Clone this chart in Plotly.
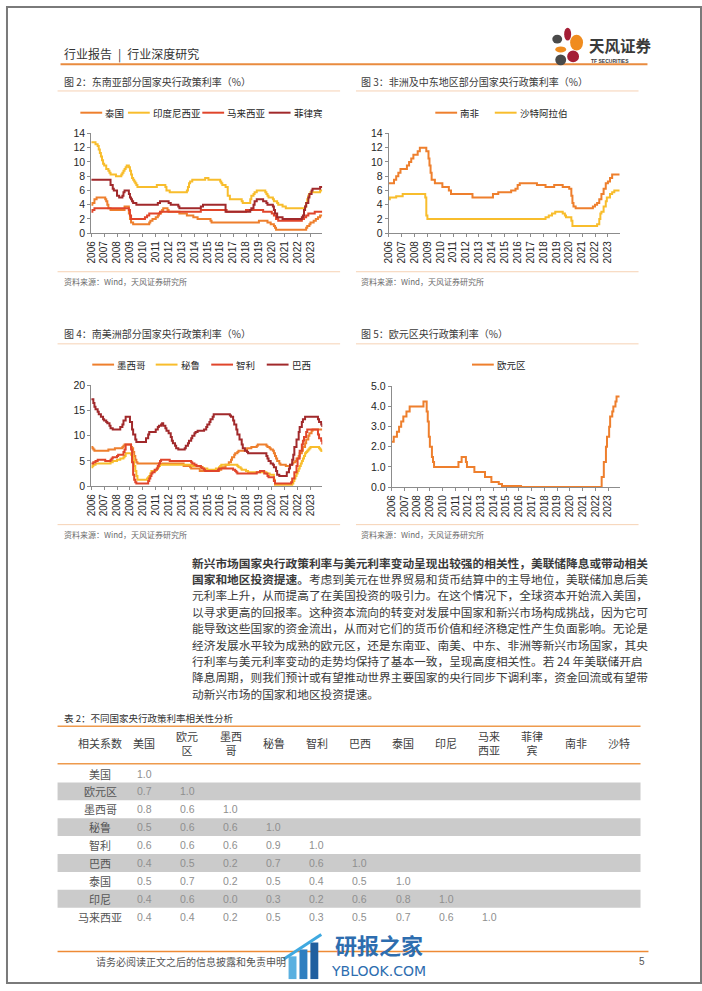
import plotly.graph_objects as go

W, H = 702, 991
CJK = "Noto Sans CJK SC"
LAT = "Liberation Sans, Arial, Noto Sans CJK SC"

ORANGE = "#EE7F2D"
YELLOW = "#F8BD2C"
RED = "#E0452B"
DARKRED = "#A1292B"

# ---------------- data (change points, drawn as steps) ----------------
TH = [("2006-01", 4.0), ("2006-02", 4.25), ("2006-04", 4.75), ("2006-06", 5.0), ("2007-02", 4.75), ("2007-03", 4.5),
      ("2007-04", 4.0), ("2007-05", 3.5), ("2007-07", 3.25), ("2008-08", 3.75), ("2008-12", 2.75), ("2009-01", 2.0),
      ("2009-02", 1.5), ("2009-04", 1.25), ("2010-07", 1.5), ("2010-08", 1.75), ("2010-10", 2.0), ("2011-01", 2.25),
      ("2011-03", 2.5), ("2011-04", 2.75), ("2011-06", 3.0), ("2011-07", 3.25), ("2011-08", 3.5), ("2011-12", 3.25),
      ("2012-01", 3.0), ("2012-11", 2.75), ("2013-06", 2.5), ("2013-12", 2.25), ("2014-04", 2.0), ("2015-04", 1.75),
      ("2015-05", 1.5), ("2019-01", 1.75), ("2019-09", 1.5), ("2019-12", 1.25), ("2020-03", 1.0), ("2020-04", 0.75),
      ("2020-05", 0.5), ("2022-09", 0.75), ("2022-10", 1.0), ("2022-12", 1.25), ("2023-01", 1.5), ("2023-04", 1.75),
      ("2023-06", 2.0), ("2023-08", 2.25), ("2023-10", 2.5), ("2023-12", 2.5)]
ID = [("2006-01", 12.75), ("2006-05", 12.5), ("2006-07", 12.25), ("2006-08", 11.75), ("2006-09", 11.25), ("2006-10", 10.75),
      ("2006-11", 10.25), ("2006-12", 9.75), ("2007-01", 9.5), ("2007-03", 9.0), ("2007-05", 8.75), ("2007-06", 8.5),
      ("2007-07", 8.25), ("2007-12", 8.0), ("2008-05", 8.25), ("2008-06", 8.5), ("2008-07", 8.75), ("2008-08", 9.0),
      ("2008-09", 9.25), ("2008-10", 9.5), ("2008-12", 9.25), ("2009-01", 8.75), ("2009-02", 8.25), ("2009-03", 7.75),
      ("2009-04", 7.5), ("2009-05", 7.25), ("2009-06", 7.0), ("2009-07", 6.75), ("2009-08", 6.5), ("2011-02", 6.75),
      ("2011-10", 6.5), ("2011-11", 6.0), ("2012-02", 5.75), ("2013-06", 6.0), ("2013-07", 6.5), ("2013-08", 7.0),
      ("2013-09", 7.25), ("2013-11", 7.5), ("2014-11", 7.75), ("2015-02", 7.5), ("2016-01", 7.25), ("2016-02", 7.0),
      ("2016-03", 6.75), ("2016-06", 6.5), ("2016-08", 5.25), ("2016-10", 4.75), ("2017-09", 4.5), ("2017-10", 4.25),
      ("2018-05", 4.75), ("2018-06", 5.25), ("2018-08", 5.5), ("2018-09", 5.75), ("2018-11", 6.0), ("2019-07", 5.75),
      ("2019-08", 5.5), ("2019-09", 5.25), ("2019-10", 5.0), ("2020-02", 4.75), ("2020-03", 4.5), ("2020-06", 4.25),
      ("2020-07", 4.0), ("2020-11", 3.75), ("2021-02", 3.5), ("2022-08", 3.75), ("2022-09", 4.25), ("2022-10", 4.75),
      ("2022-11", 5.25), ("2022-12", 5.5), ("2023-01", 5.75), ("2023-10", 6.0), ("2023-12", 6.0)]
MY = [("2006-01", 3.0), ("2006-02", 3.25), ("2006-04", 3.5), ("2008-12", 3.25), ("2009-01", 2.5), ("2009-02", 2.0),
      ("2010-03", 2.25), ("2010-05", 2.5), ("2010-07", 2.75), ("2011-05", 3.0), ("2014-07", 3.25), ("2016-07", 3.0),
      ("2018-01", 3.25), ("2019-05", 3.0), ("2020-01", 2.75), ("2020-03", 2.5), ("2020-05", 2.0), ("2020-07", 1.75),
      ("2022-05", 2.0), ("2022-07", 2.25), ("2022-09", 2.5), ("2022-11", 2.75), ("2023-05", 3.0), ("2023-12", 3.0)]
PH = [("2006-01", 7.5), ("2007-07", 6.75), ("2007-09", 6.25), ("2007-10", 6.0), ("2008-01", 5.25), ("2008-03", 5.0),
      ("2008-06", 5.25), ("2008-07", 5.75), ("2008-08", 6.0), ("2008-12", 5.5), ("2009-01", 5.0), ("2009-02", 4.75),
      ("2009-03", 4.5), ("2009-04", 4.25), ("2009-07", 4.0), ("2011-03", 4.25), ("2011-05", 4.5), ("2012-01", 4.25),
      ("2012-03", 4.0), ("2012-10", 3.75), ("2012-11", 3.5), ("2014-07", 3.75), ("2014-09", 4.0), ("2016-06", 3.0),
      ("2018-05", 3.25), ("2018-06", 3.5), ("2018-08", 4.0), ("2018-09", 4.5), ("2018-11", 4.75), ("2019-05", 4.5),
      ("2019-08", 4.25), ("2019-09", 4.0), ("2020-02", 3.75), ("2020-03", 3.25), ("2020-04", 2.75), ("2020-06", 2.25),
      ("2020-11", 2.0), ("2022-05", 2.25), ("2022-06", 2.5), ("2022-07", 3.25), ("2022-08", 3.75), ("2022-09", 4.25),
      ("2022-11", 5.0), ("2022-12", 5.5), ("2023-02", 6.0), ("2023-03", 6.25), ("2023-10", 6.5), ("2023-12", 6.5)]

ZA = [("2006-01", 7.0), ("2006-06", 7.5), ("2006-08", 8.0), ("2006-10", 8.5), ("2006-12", 9.0), ("2007-06", 9.5),
      ("2007-08", 10.0), ("2007-10", 10.5), ("2007-12", 11.0), ("2008-04", 11.5), ("2008-06", 12.0), ("2008-12", 11.5),
      ("2009-02", 10.5), ("2009-03", 9.5), ("2009-04", 8.5), ("2009-05", 7.5), ("2009-08", 7.0), ("2010-03", 6.5),
      ("2010-09", 6.0), ("2010-11", 5.5), ("2012-07", 5.0), ("2014-02", 5.5), ("2014-07", 5.75), ("2015-07", 6.0),
      ("2015-11", 6.25), ("2016-01", 6.75), ("2016-03", 7.0), ("2017-07", 6.75), ("2018-03", 6.5), ("2018-11", 6.75),
      ("2019-07", 6.5), ("2020-01", 6.25), ("2020-03", 5.25), ("2020-04", 4.25), ("2020-05", 3.75), ("2020-07", 3.5),
      ("2021-11", 3.75), ("2022-01", 4.0), ("2022-03", 4.25), ("2022-05", 4.75), ("2022-07", 5.5), ("2022-09", 6.25),
      ("2022-11", 7.0), ("2023-01", 7.25), ("2023-03", 7.75), ("2023-05", 8.25), ("2023-12", 8.25)]
SA = [("2006-01", 4.75), ("2006-02", 5.0), ("2006-08", 5.2), ("2007-02", 5.5), ("2008-11", 5.0), ("2008-12", 2.5),
      ("2009-01", 2.0), ("2018-03", 2.25), ("2018-06", 2.5), ("2018-09", 2.75), ("2018-12", 3.0), ("2019-07", 2.75),
      ("2019-09", 2.5), ("2019-10", 2.25), ("2020-03", 1.75), ("2020-04", 1.0), ("2022-03", 1.25), ("2022-05", 2.0),
      ("2022-06", 2.75), ("2022-07", 3.0), ("2022-09", 3.75), ("2022-11", 4.5), ("2022-12", 5.0), ("2023-03", 5.5),
      ("2023-05", 5.75), ("2023-07", 6.0), ("2023-12", 6.0)]

MX = [("2006-01", 7.75), ("2006-02", 7.5), ("2006-03", 7.25), ("2006-04", 7.0), ("2007-05", 7.25), ("2007-11", 7.5),
      ("2008-06", 7.75), ("2008-07", 8.0), ("2008-08", 8.25), ("2009-02", 7.75), ("2009-03", 7.5), ("2009-04", 6.75),
      ("2009-05", 6.0), ("2009-06", 5.25), ("2009-07", 4.75), ("2009-08", 4.5), ("2013-03", 4.0), ("2013-09", 3.75),
      ("2013-10", 3.5), ("2014-06", 3.0), ("2015-12", 3.25), ("2016-02", 3.75), ("2016-06", 4.25), ("2016-09", 4.75),
      ("2016-11", 5.25), ("2016-12", 5.75), ("2017-02", 6.25), ("2017-03", 6.5), ("2017-05", 6.75), ("2017-06", 7.0),
      ("2017-12", 7.25), ("2018-02", 7.5), ("2018-06", 7.75), ("2018-11", 8.0), ("2018-12", 8.25), ("2019-08", 8.0),
      ("2019-09", 7.75), ("2019-11", 7.5), ("2019-12", 7.25), ("2020-02", 7.0), ("2020-03", 6.5), ("2020-04", 6.0),
      ("2020-05", 5.5), ("2020-06", 5.0), ("2020-08", 4.5), ("2020-09", 4.25), ("2021-02", 4.0), ("2021-06", 4.25),
      ("2021-08", 4.5), ("2021-09", 4.75), ("2021-11", 5.0), ("2021-12", 5.5), ("2022-02", 6.0), ("2022-03", 6.5),
      ("2022-05", 7.0), ("2022-06", 7.75), ("2022-08", 8.5), ("2022-09", 9.25), ("2022-11", 10.0), ("2022-12", 10.5),
      ("2023-02", 11.0), ("2023-03", 11.25), ("2023-12", 11.25)]
PE = [("2006-01", 3.75), ("2006-02", 4.0), ("2006-03", 4.25), ("2006-05", 4.5), ("2007-07", 4.75), ("2007-09", 5.0),
      ("2008-01", 5.25), ("2008-04", 5.5), ("2008-07", 5.75), ("2008-08", 6.0), ("2008-09", 6.5), ("2009-02", 6.25),
      ("2009-03", 6.0), ("2009-04", 5.0), ("2009-05", 4.0), ("2009-06", 3.0), ("2009-07", 2.0), ("2009-08", 1.25),
      ("2010-05", 1.5), ("2010-06", 1.75), ("2010-07", 2.0), ("2010-08", 2.5), ("2010-09", 3.0), ("2011-01", 3.25),
      ("2011-02", 3.5), ("2011-03", 3.75), ("2011-04", 4.0), ("2011-05", 4.25), ("2013-11", 4.0), ("2014-07", 3.75),
      ("2014-09", 3.5), ("2015-01", 3.25), ("2015-09", 3.5), ("2015-12", 3.75), ("2016-01", 4.0), ("2016-02", 4.25),
      ("2017-05", 4.0), ("2017-06", 3.75), ("2017-08", 3.5), ("2017-09", 3.25), ("2018-01", 3.0), ("2018-03", 2.75),
      ("2019-08", 2.5), ("2019-11", 2.25), ("2020-03", 1.25), ("2020-04", 0.25), ("2021-08", 0.5), ("2021-09", 1.0),
      ("2021-10", 1.5), ("2021-11", 2.0), ("2021-12", 2.5), ("2022-01", 3.0), ("2022-02", 3.5), ("2022-03", 4.0),
      ("2022-04", 4.5), ("2022-05", 5.0), ("2022-06", 5.5), ("2022-07", 6.0), ("2022-08", 6.5), ("2022-09", 6.75),
      ("2022-10", 7.0), ("2022-11", 7.25), ("2022-12", 7.5), ("2023-01", 7.75), ("2023-09", 7.5), ("2023-10", 7.25),
      ("2023-11", 7.0), ("2023-12", 6.75)]
CL = [("2006-01", 4.5), ("2006-03", 4.75), ("2006-05", 5.0), ("2006-07", 5.25), ("2007-02", 5.0), ("2007-07", 5.25),
      ("2007-08", 5.5), ("2007-09", 5.75), ("2008-01", 6.0), ("2008-02", 6.25), ("2008-07", 6.75), ("2008-08", 7.25),
      ("2008-09", 8.25), ("2009-02", 7.25), ("2009-03", 4.75), ("2009-04", 2.25), ("2009-05", 1.25), ("2009-06", 0.75),
      ("2009-07", 0.5), ("2010-06", 1.0), ("2010-07", 1.5), ("2010-08", 2.0), ("2010-09", 2.5), ("2010-10", 2.75),
      ("2010-12", 3.25), ("2011-02", 3.5), ("2011-03", 4.0), ("2011-04", 4.5), ("2011-05", 5.0), ("2011-06", 5.25),
      ("2012-02", 5.0), ("2013-10", 4.75), ("2013-11", 4.5), ("2014-01", 4.25), ("2014-03", 4.0), ("2014-07", 3.75),
      ("2014-08", 3.5), ("2014-10", 3.25), ("2014-11", 3.0), ("2015-11", 3.25), ("2015-12", 3.5), ("2017-01", 3.25),
      ("2017-03", 3.0), ("2017-04", 2.75), ("2017-05", 2.5), ("2018-11", 2.75), ("2019-02", 3.0), ("2019-06", 2.5),
      ("2019-09", 2.0), ("2019-10", 1.75), ("2020-03", 1.0), ("2020-04", 0.5), ("2021-07", 0.75), ("2021-08", 1.5),
      ("2021-10", 2.75), ("2021-12", 4.0), ("2022-01", 5.5), ("2022-03", 7.0), ("2022-05", 8.25), ("2022-06", 9.0),
      ("2022-07", 9.75), ("2022-09", 10.75), ("2022-10", 11.25), ("2023-08", 10.25), ("2023-09", 9.5), ("2023-11", 9.0),
      ("2023-12", 8.25)]
BR = [("2006-01", 17.25), ("2006-03", 16.5), ("2006-04", 15.75), ("2006-05", 15.25), ("2006-07", 14.75), ("2006-08", 14.25),
      ("2006-10", 13.75), ("2006-12", 13.25), ("2007-01", 13.0), ("2007-03", 12.75), ("2007-04", 12.5), ("2007-06", 12.0),
      ("2007-07", 11.5), ("2007-09", 11.25), ("2008-04", 11.75), ("2008-06", 12.25), ("2008-07", 13.0), ("2008-09", 13.75),
      ("2009-01", 12.75), ("2009-03", 11.25), ("2009-04", 10.25), ("2009-06", 9.25), ("2009-07", 8.75), ("2010-04", 9.5),
      ("2010-06", 10.25), ("2010-07", 10.75), ("2011-01", 11.25), ("2011-03", 11.75), ("2011-04", 12.0), ("2011-06", 12.25),
      ("2011-07", 12.5), ("2011-08", 12.0), ("2011-10", 11.5), ("2011-11", 11.0), ("2012-01", 10.5), ("2012-03", 9.75),
      ("2012-04", 9.0), ("2012-05", 8.5), ("2012-07", 8.0), ("2012-08", 7.5), ("2012-10", 7.25), ("2013-04", 7.5),
      ("2013-05", 8.0), ("2013-07", 8.5), ("2013-08", 9.0), ("2013-10", 9.5), ("2013-11", 10.0), ("2014-01", 10.5),
      ("2014-02", 10.75), ("2014-04", 11.0), ("2014-10", 11.25), ("2014-12", 11.75), ("2015-01", 12.25), ("2015-03", 12.75),
      ("2015-04", 13.25), ("2015-06", 13.75), ("2015-07", 14.25), ("2016-10", 14.0), ("2016-11", 13.75), ("2017-01", 13.0),
      ("2017-02", 12.25), ("2017-04", 11.25), ("2017-05", 10.25), ("2017-07", 9.25), ("2017-09", 8.25), ("2017-10", 7.5),
      ("2017-12", 7.0), ("2018-02", 6.75), ("2018-03", 6.5), ("2019-08", 6.0), ("2019-09", 5.5), ("2019-10", 5.0),
      ("2019-12", 4.5), ("2020-02", 4.25), ("2020-03", 3.75), ("2020-05", 3.0), ("2020-06", 2.25), ("2020-08", 2.0),
      ("2021-03", 2.75), ("2021-05", 3.5), ("2021-06", 4.25), ("2021-08", 5.25), ("2021-09", 6.25), ("2021-10", 7.75),
      ("2021-12", 9.25), ("2022-02", 10.75), ("2022-03", 11.75), ("2022-05", 12.75), ("2022-06", 13.25), ("2022-08", 13.75),
      ("2023-08", 13.25), ("2023-09", 12.75), ("2023-11", 12.25), ("2023-12", 11.75)]

EU = [("2006-01", 2.25), ("2006-03", 2.5), ("2006-06", 2.75), ("2006-08", 3.0), ("2006-10", 3.25), ("2006-12", 3.5),
      ("2007-03", 3.75), ("2007-06", 4.0), ("2008-07", 4.25), ("2008-10", 3.75), ("2008-11", 3.25), ("2008-12", 2.5),
      ("2009-01", 2.0), ("2009-03", 1.5), ("2009-04", 1.25), ("2009-05", 1.0), ("2011-04", 1.25), ("2011-07", 1.5),
      ("2011-11", 1.25), ("2011-12", 1.0), ("2012-07", 0.75), ("2013-05", 0.5), ("2013-11", 0.25), ("2014-06", 0.15),
      ("2014-09", 0.05), ("2016-03", 0.0), ("2022-07", 0.5), ("2022-09", 1.25), ("2022-11", 2.0), ("2022-12", 2.5),
      ("2023-02", 3.0), ("2023-03", 3.5), ("2023-05", 3.75), ("2023-06", 4.0), ("2023-08", 4.25), ("2023-09", 4.5),
      ("2023-12", 4.5)]

# table data
TABLE_HEADERS = ["相关系数", "美国", "欧元<br>区", "墨西<br>哥", "秘鲁", "智利", "巴西", "泰国", "印尼",
                 "马来<br>西亚", "菲律<br>宾", "南非", "沙特"]
TABLE_ROWS = ["美国", "欧元区", "墨西哥", "秘鲁", "智利", "巴西", "泰国", "印尼", "马来西亚"]
TABLE_VALUES = [
    [1.0],
    [0.7, 1.0],
    [0.8, 0.6, 1.0],
    [0.5, 0.6, 0.6, 1.0],
    [0.6, 0.6, 0.6, 0.9, 1.0],
    [0.4, 0.5, 0.2, 0.7, 0.6, 1.0],
    [0.5, 0.7, 0.2, 0.5, 0.4, 0.5, 1.0],
    [0.4, 0.6, 0.0, 0.3, 0.2, 0.6, 0.8, 1.0],
    [0.4, 0.4, 0.2, 0.5, 0.3, 0.5, 0.7, 0.6, 1.0],
]

BODY_LINES = [
    "<b>新兴市场国家央行政策利率与美元利率变动呈现出较强的相关性，美联储降息或带动相关</b>",
    "<b>国家和地区投资提速。</b>考虑到美元在世界贸易和货币结算中的主导地位，美联储加息后美",
    "元利率上升，从而提高了在美国投资的吸引力。在这个情况下，全球资本开始流入美国，",
    "以寻求更高的回报率。这种资本流向的转变对发展中国家和新兴市场构成挑战，因为它可",
    "能导致这些国家的资金流出，从而对它们的货币价值和经济稳定性产生负面影响。无论是",
    "经济发展水平较为成熟的欧元区，还是东南亚、南美、中东、非洲等新兴市场国家，其央",
    "行利率与美元利率变动的走势均保持了基本一致，呈现高度相关性。若 24 年美联储开启",
    "降息周期，则我们预计或有望推动世界主要国家的央行同步下调利率，资金回流或有望带",
    "动新兴市场的国家和地区投资提速。",
]


# ---------------- helpers ----------------
def X(px):
    return px / W


def Y(py):
    return 1 - py / H


shapes = []
annotations = []


def txt(x, y, s, size, color="#333333", anchor="left", family=CJK, yanchor="middle"):
    annotations.append(dict(x=X(x), y=Y(y), xref="paper", yref="paper", text=s, showarrow=False,
                            xanchor=anchor, yanchor=yanchor, font=dict(size=size, color=color, family=family),
                            borderpad=0))


def hline(x0, x1, y, color, w):
    shapes.append(dict(type="line", xref="paper", yref="paper", x0=X(x0), x1=X(x1), y0=Y(y), y1=Y(y),
                       line=dict(color=color, width=w)))


def rect(x0, y0, x1, y1, fill, kind="rect"):
    shapes.append(dict(type=kind, xref="paper", yref="paper", x0=X(x0), x1=X(x1), y0=Y(y0), y1=Y(y1),
                       fillcolor=fill, line=dict(width=0, color=fill), layer="above"))


fig = go.Figure()


def add_series(data, color, ax):
    xs = [d for d, v in data]
    ys = [v for d, v in data]
    fig.add_trace(go.Scatter(x=xs, y=ys, mode="lines", line=dict(color=color, width=2, shape="hv"),
                             xaxis="x" + ax, yaxis="y" + ax, showlegend=False, hoverinfo="skip"))


add_series(TH, ORANGE, "")
add_series(ID, YELLOW, "")
add_series(MY, RED, "")
add_series(PH, DARKRED, "")
add_series(ZA, ORANGE, "2")
add_series(SA, YELLOW, "2")
add_series(MX, ORANGE, "3")
add_series(PE, YELLOW, "3")
add_series(CL, RED, "3")
add_series(BR, DARKRED, "3")
add_series(EU, ORANGE, "4")

AXC = "#8c8c8c"
xcommon = dict(type="date", range=["2006-01-01", "2023-12-01"], dtick="M12", tick0="2006-01-01",
               tickformat="%Y", tickangle=-90, showline=True, linecolor=AXC, linewidth=1, ticks="outside",
               ticklen=3, tickcolor=AXC, showgrid=False, zeroline=False,
               tickfont=dict(size=10, family=LAT, color="#262626"))
ycommon = dict(showline=True, linecolor=AXC, linewidth=1, ticks="outside", ticklen=3, tickcolor=AXC,
               showgrid=False, zeroline=False, tickfont=dict(size=10.5, family=LAT, color="#262626"))

layout = dict(
    width=W, height=H, autosize=False, margin=dict(l=0, r=0, t=0, b=0),
    paper_bgcolor="white", plot_bgcolor="white", showlegend=False,
    xaxis=dict(domain=[X(86), X(319)], anchor="y", **xcommon),
    yaxis=dict(domain=[Y(230), Y(129)], anchor="x", range=[0, 14], dtick=2, **ycommon),
    xaxis2=dict(domain=[X(386), X(619)], anchor="y2", **xcommon),
    yaxis2=dict(domain=[Y(230), Y(129)], anchor="x2", range=[0, 14], dtick=2, **ycommon),
    xaxis3=dict(domain=[X(86), X(319)], anchor="y3", **xcommon),
    yaxis3=dict(domain=[Y(486), Y(384)], anchor="x3", range=[0, 20], dtick=5, **ycommon),
    xaxis4=dict(domain=[X(389), X(619)], anchor="y4", **xcommon),
    yaxis4=dict(domain=[Y(487), Y(385)], anchor="x4", range=[0, 5], dtick=1, tickformat=".1f", **ycommon),
)

# ---------------- page decoration ----------------
shapes.append(dict(type="rect", xref="paper", yref="paper", x0=X(1), x1=X(701), y0=Y(1), y1=Y(989),
                   line=dict(color="#7a7a7a", width=2), fillcolor="rgba(0,0,0,0)"))
# header
txt(57, 49, "行业报告\u2002|\u2002行业深度研究", 12, "#333333")
hline(55, 647, 59, "#E98B3F", 2)
# logo petals
rect(551, 29, 561, 38, "#4a4a4a", kind="circle")
rect(563, 22, 570, 35, "#A51E36", kind="circle")
rect(569, 29, 582, 45, "#F08C1E", kind="circle")
rect(554, 41, 565, 47, "#F08C1E", kind="circle")
rect(566, 45, 578, 57, "#A51E36", kind="circle")
rect(554, 49, 565, 60, "#4a4a4a", kind="circle")
txt(587, 39.5, "<b>天风证券</b>", 15.5, "#3a3a3a")
txt(589, 56, "<b>TF SECURITIES</b>", 5, "#3a3a3a", family=LAT)

# chart titles / rules
TITLE_C = "#3a3a3a"
RULE_C = "#F6D2B4"
txt(57, 76, "图 2：东南亚部分国家央行政策利率（%）", 10, TITLE_C)
txt(357, 76, "图 3：非洲及中东地区部分国家央行政策利率（%）", 10, TITLE_C)
txt(57, 332, "图 4：南美洲部分国家央行政策利率（%）", 10, TITLE_C)
txt(357, 332, "图 5：欧元区央行政策利率（%）", 10, TITLE_C)
for ry in (86, 342, 269, 525):
    hline(52, 337, ry, RULE_C, 1)
    hline(353, 638, ry, RULE_C, 1)
for sx, sy in [(57, 279), (357, 279), (57, 535), (357, 535)]:
    txt(sx, sy, "资料来源：Wind，天风证券研究所", 8, "#6b6b6b")

# manual legends
LEG = [
    (108, [("泰国", ORANGE, 75, 97), ("印度尼西亚", YELLOW, 123, 145), ("马来西亚", RED, 198, 220), ("菲律宾", DARKRED, 265, 287)]),
    (108, [("南非", ORANGE, 433, 455), ("沙特阿拉伯", YELLOW, 493, 515)]),
    (363, [("墨西哥", ORANGE, 87, 109), ("秘鲁", YELLOW, 151, 173), ("智利", RED, 207, 229), ("巴西", DARKRED, 263, 285)]),
    (363, [("欧元区", ORANGE, 470, 492)]),
]
for ly, items in LEG:
    for name, col, lx0, lx1 in items:
        hline(lx0, lx1, ly, col, 2)
        txt(lx1 + 2, ly, name, 9.5, "#262626")

# body paragraph
for i, line in enumerate(BODY_LINES):
    txt(187, 563 + i * 16.6, line, 11.7, "#3b3b3b")

# table
TABLE_L, TABLE_R = 52, 640
txt(57, 721, "表 2：不同国家央行政策利率相关性分析", 9.5, "#333333")
hline(TABLE_L, TABLE_R, 729, "#EE9A4D", 1.5)
hline(TABLE_L, TABLE_R, 767, "#EE9A4D", 1.5)
col_x = [95] + [139.5 + 43.5 * k for k in range(12)]
for cx, h in zip(col_x, TABLE_HEADERS):
    txt(cx, 746, h, 11, "#404040", anchor="center")
for i, (rname, vals) in enumerate(zip(TABLE_ROWS, TABLE_VALUES)):
    ry = 777 + i * 18.1
    if i % 2 == 1:
        shapes.append(dict(type="rect", xref="paper", yref="paper", x0=X(TABLE_L), x1=X(TABLE_R),
                           y0=Y(ry - 9), y1=Y(ry + 9), fillcolor="#CBCBCB", line=dict(width=0), layer="below"))
    txt(col_x[0], ry, rname, 11, "#555555", anchor="center")
    for k, v in enumerate(vals):
        txt(col_x[k + 1], ry, f"{v:.1f}", 10.5, "#8f8f8f", anchor="center", family=LAT)

# footer
hline(52, 648, 957, "#EE8A35", 1.5)
txt(90, 967, "请务必阅读正文之后的信息披露和免责申明", 10, "#555555")
txt(641, 967, "5", 10, "#555555", anchor="center", family=LAT)
# watermark
rect(285, 962, 293, 985, "#5AB0E0")
rect(296, 955, 304, 985, "#2F7FC0")
rect(307, 948, 315, 985, "#1F5F9F")
shapes.append(dict(type="line", xref="paper", yref="paper", x0=X(280), y0=Y(965), x1=X(318), y1=Y(940),
                   line=dict(color="#3FA9E0", width=3)))
txt(376, 950, "<b>研报之家</b>", 22, "#2D6DAF", anchor="center")
txt(376, 977, "YBLOOK.COM", 14, "#2D6DAF", anchor="center", family="DejaVu Sans")

layout["shapes"] = shapes
layout["annotations"] = annotations
fig.update_layout(**layout)
fig.write_html("out.html", config={"displayModeBar": False},
               post_script="document.body.style.margin='0px';document.body.style.overflow='hidden';")
